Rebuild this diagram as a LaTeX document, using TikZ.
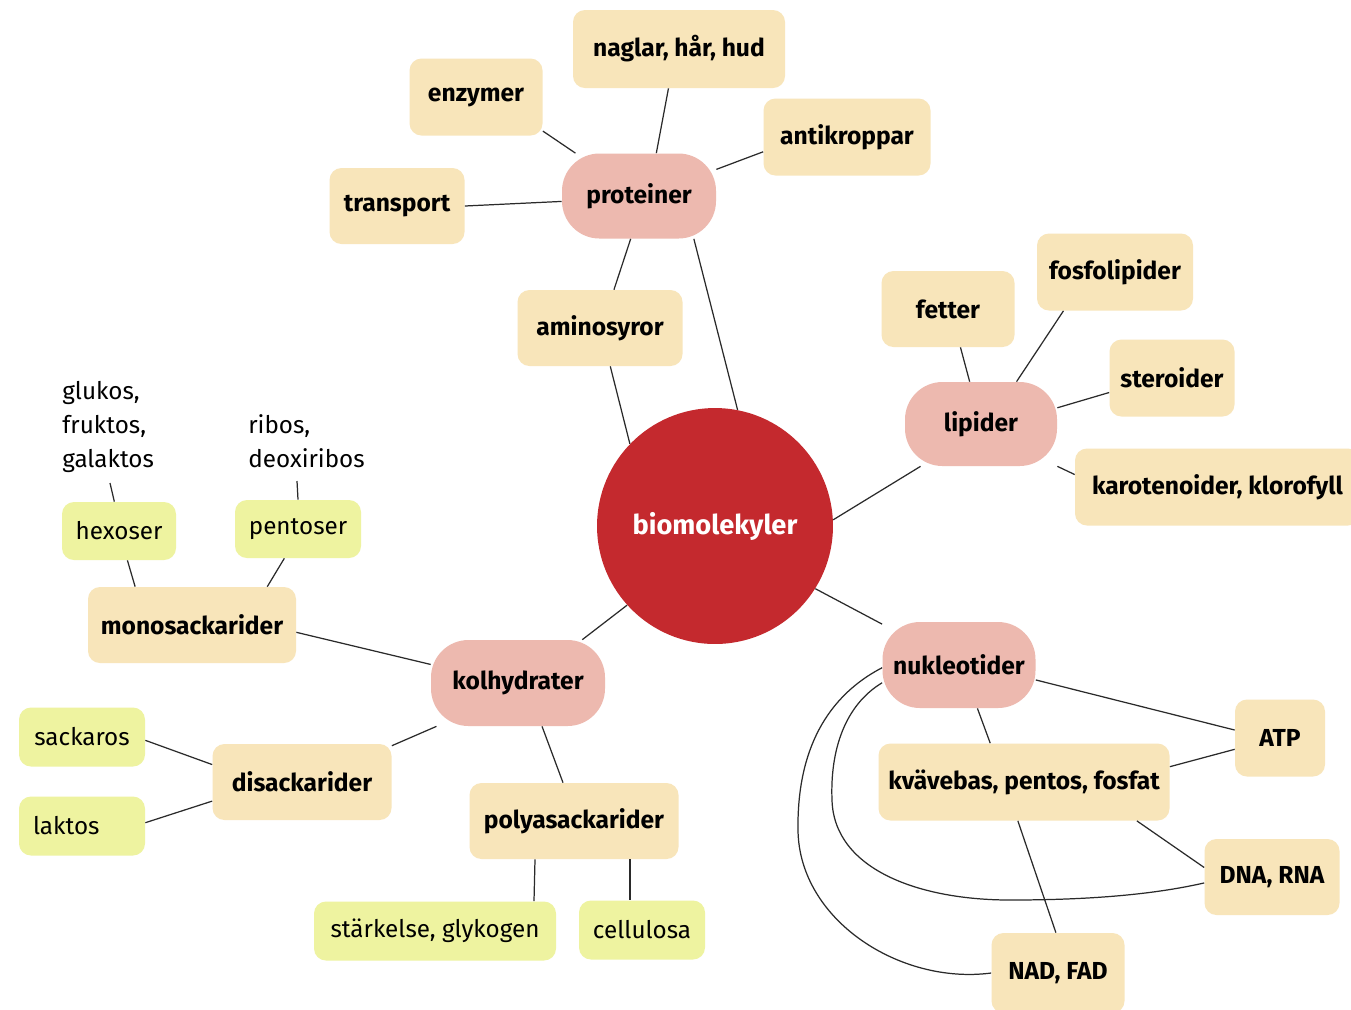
\documentclass[tikz,border=0pt]{standalone}
\usepackage{fontspec}
\setmainfont{Fira Sans}
\usetikzlibrary{calc}
\definecolor{beige}{HTML}{F8E5BA}
\definecolor{pinkbox}{HTML}{EDB9AF}
\definecolor{yelbox}{HTML}{EEF3A0}
\definecolor{redball}{HTML}{C4292E}
\definecolor{linec}{HTML}{2A2A2A}
\newcommand\mybf{\fontsize{14}{16}\selectfont\bfseries}
\newcommand\myrg{\fontsize{13.8}{19.3}\selectfont}
\newcommand\mybig{\fontsize{15.5}{18}\selectfont\bfseries}
\begin{document}
\begin{tikzpicture}[x=0.02cm,y=-0.02cm,
  sz/.style 2 args={minimum width=#1*0.02cm, minimum height=#2*0.02cm},
  boxb/.style={rectangle, inner sep=0pt, fill=beige, rounded corners=0.24cm, font=\mybf, text=black},
  boxy/.style={rectangle, inner sep=0pt, fill=yelbox, rounded corners=0.24cm, font=\myrg, text=black},
  boxp/.style={rectangle, inner sep=0pt, fill=pinkbox, rounded corners=0.75cm, font=\mybf, text=black},
  plain/.style={inner sep=0pt, font=\myrg, align=left, text=black},
  conn/.style={draw=linec, line width=0.7pt}]
\useasboundingbox (0,0) rectangle (1351,1009);
\fill[white] (0,0) rectangle (1351,1009);

% proteins
\node[boxb, sz={212}{78}] (nag) at (679,49) {naglar, hår, hud};
\node[boxb, sz={133}{77}] (enz) at (476,97) {enzymer};
\node[boxb, sz={167}{77}] (anti) at (847,137) {antikroppar};
\node[boxb, sz={135}{76}] (trans) at (397,206) {transport};
\node[boxp, sz={154}{85}] (prot) at (639,196) {proteiner};
\node[boxb, sz={165}{76}] (amino) at (600,328) {aminosyror};

% lipids
\node[boxb, sz={133}{76}] (fett) at (948,309) {fetter};
\node[boxb, sz={156}{77}] (fosf) at (1115,272) {fosfolipider};
\node[boxb, sz={125}{77}] (ster) at (1172,378) {steroider};
\node[boxp, sz={152}{84}] (lip) at (981,424) {lipider};
\node[boxb, sz={285}{77}] (karo) at (1217.5,487) {karotenoider, klorofyll};

% centre
\node[circle, fill=redball, inner sep=0pt, minimum size=4.72cm, text=white, font=\mybig] (bio) at (715,526) {biomolekyler};

% carbohydrates
\node[plain, anchor=west] (glu) at (62,427) {glukos,\\fruktos,\\galaktos};
\node[plain, anchor=west] (rib) at (248,441.5) {ribos,\\deoxiribos};
\coordinate (gluend) at (110,483);
\coordinate (ribend) at (297,481);
\node[boxy, sz={114}{58}] (hex) at (119,531) {hexoser};
\node[boxy, sz={126}{58}] (pent) at (298,529) {pentoser};
\node[boxb, sz={208}{76}] (mono) at (192,625) {monosackarider};
\node[boxp, sz={174}{86}] (kol) at (518,683) {kolhydrater};
\node[boxy, sz={126}{59}] (sack) at (82,737) {sackaros};
\node[boxy, sz={126}{59}, text width=98*0.02cm, align=left] (lak) at (82,826) {laktos};
\node[boxb, sz={179}{76}] (disa) at (302,782) {disackarider};
\node[boxb, sz={209}{76}] (poly) at (574,821) {polyasackarider};
\node[boxy, sz={242}{59}] (stark) at (435,931) {stärkelse, glykogen};
\node[boxy, sz={126}{59}] (cell) at (642,930) {cellulosa};

% nucleotides
\node[boxp, sz={153}{86}] (nuk) at (959,665) {nukleotider};
\node[boxb, sz={291}{77}] (kvav) at (1024,782) {kvävebas, pentos, fosfat};
\node[boxb, sz={90}{77}] (atp) at (1280,738) {ATP};
\node[boxb, sz={135}{76}] (dna) at (1272,877) {DNA, RNA};
\node[boxb, sz={133}{80}] (nad) at (1058,973) {NAD, FAD};

% connectors
\draw[conn] (enz.-27.6) -- (prot.146);
\draw[conn] (nag.255) -- (prot.68);
\draw[conn] (anti.190) -- (prot.19);
\draw[conn] (trans.east) -- (prot.184);
\draw[conn] (prot.259) -- (amino.70);
\draw[conn] (prot.-38) -- (bio.79.4);
\draw[conn] (amino.-75) -- (bio.136.3);

\draw[conn] (fett.-72) -- (lip.105);
\draw[conn] (fosf.217.7) -- (lip.50);
\draw[conn] (ster.193) -- (lip.12.5);
\draw[conn] (karo.175.6) -- (lip.-29.8);
\draw[conn] (lip.215.3) -- (bio.3.3);

\draw[conn] (hex.99) -- (gluend);
\draw[conn] (pent.north) -- (ribend);
\draw[conn] (hex.-74) -- (mono.146.8);
\draw[conn] (pent.245.6) -- (mono.27.8);
\draw[conn] (mono.-4.3) -- (kol.168.8);
\draw[conn] (kol.34) -- (bio.222);
\draw[conn] (kol.208.6) -- (disa.22);
\draw[conn] (kol.-61.5) -- (poly.106.7);
\draw[conn] (sack.-3.5) -- (disa.169.4);
\draw[conn] (lak.3.4) -- (disa.192.5);
\draw[conn] ($(poly.south)+(-39,0)$) -- ($(stark.north)+(99,0)$);
\draw[conn] ($(poly.south)+(56,0)$) -- ($(cell.north)+(-12,0)$);

\draw[conn] (bio.-32.6) -- (nuk.152.4);
\draw[conn] (nuk.-11) -- (atp.170);
\draw[conn] (kvav.6.6) -- (atp.194.6);
\draw[conn] (nuk.-67.8) -- (kvav.131);
\draw[conn] (kvav.-19.7) -- (dna.172.3);
\draw[conn] (kvav.261.5) -- (nad.93);
\draw[conn] (nuk.182) .. controls (820,700) and (797,760) .. (798,830)
  .. controls (799,920) and (900,985) .. (nad.west);
\draw[conn] (nuk.193) .. controls (845,705) and (830,750) .. (832,800)
  .. controls (834,870) and (920,900) .. (1010,900)
  .. controls (1100,900) and (1160,893) .. (dna.185);
\end{tikzpicture}
\end{document}
